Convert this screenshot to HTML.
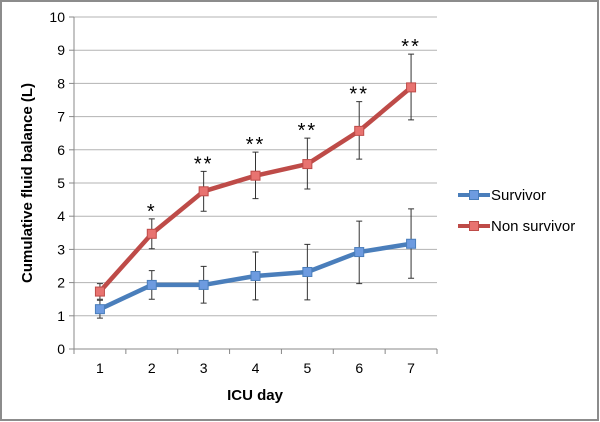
<!DOCTYPE html>
<html><head><meta charset="utf-8"><style>
body{margin:0;background:#fff;}
svg{display:block;font-family:"Liberation Sans",Calibri,sans-serif;}
</style></head><body>
<svg width="600" height="422" viewBox="0 0 600 422">
<rect x="1" y="1" width="597" height="419" fill="#fff" stroke="#8c8c8c" stroke-width="2"/>
<g id="grid"></g><g id="axes"></g><g id="series"></g>
<text x="32" y="183" transform="rotate(-90 32 183)" text-anchor="middle" font-size="15" font-weight="bold" fill="#000">Cumulative fluid balance (L)</text>
<text x="255" y="400" text-anchor="middle" font-size="15" font-weight="bold" fill="#000">ICU day</text>
<g>
<g>
<line x1="458" y1="195" x2="490" y2="195" stroke="#4a7ebb" stroke-width="4"/>
<rect x="469.5" y="190.5" width="9" height="9" fill="#6d9be0" stroke="#4a7ebb"/>
<text x="491" y="200" font-size="15" fill="#000">Survivor</text></g>
<g>
<line x1="458" y1="226" x2="490" y2="226" stroke="#be4b48" stroke-width="4"/>
<rect x="469.5" y="221.5" width="9" height="9" fill="#e87370" stroke="#be4b48"/>
<text x="491" y="231" font-size="15" fill="#000">Non survivor</text></g>
</g>
</svg>
<script>
const days=[1,2,3,4,5,6,7];
const yTicks=[0,1,2,3,4,5,6,7,8,9,10];
const survivor=[1.2,1.93,1.93,2.2,2.32,2.92,3.17];
const survivorHi=[1.47,2.36,2.49,2.92,3.15,3.85,4.22];
const survivorLo=[0.93,1.5,1.38,1.48,1.48,1.97,2.13];
const nonSurvivor=[1.73,3.47,4.75,5.22,5.57,6.57,7.88];
const nonSurvivorHi=[1.97,3.92,5.35,5.93,6.35,7.45,8.88];
const nonSurvivorLo=[1.5,3.02,4.15,4.53,4.82,5.72,6.9];
const stars=["","*","**","**","**","**","**"];
const NS="http://www.w3.org/2000/svg";
const x0=74,x1=437,yb=349,yt=17;
const step=(x1-x0)/days.length;
const X=i=>x0+step*(i+0.5);
const Y=v=>yb-(v/10)*(yb-yt);
function mk(tag,attrs,parent){const e=document.createElementNS(NS,tag);for(const k in attrs)e.setAttribute(k,attrs[k]);parent.appendChild(e);return e;}
const grid=document.getElementById('grid'),axes=document.getElementById('axes'),ser=document.getElementById('series');
yTicks.forEach(v=>{
 if(v>0){const g=mk('line',{x1:x0,x2:x1,y1:Y(v),y2:Y(v),stroke:'#b3b3b3','stroke-width':1},grid);
 
 }
 const tk=mk('line',{x1:x0-5,x2:x0,y1:Y(v),y2:Y(v),stroke:'#888'},axes);
 
 
 const t=mk('text',{x:x0-9,y:Y(v)+5,'text-anchor':'end','font-size':14,fill:'#000'},axes);t.textContent=v;
 
 
});
const ya=mk('line',{x1:x0,x2:x0,y1:yt,y2:yb,stroke:'#888'},axes);


const xa=mk('line',{x1:x0,x2:x1,y1:yb,y2:yb,stroke:'#888'},axes);


for(let i=0;i<=days.length;i++){const tk=mk('line',{x1:x0+step*i,x2:x0+step*i,y1:yb,y2:yb+5,stroke:'#888'},axes);
 
 }
days.forEach((d,i)=>{const t=mk('text',{x:X(i),y:yb+24,'text-anchor':'middle','font-size':14,fill:'#000'},axes);t.textContent=d;
 
 });
function drawSeries(name,vals,hi,lo,stroke,fill){
 const g=mk('g',{},ser);
 
 
 vals.forEach((v,i)=>{const cx=X(i);
  const e=mk('path',{d:`M${cx},${Y(hi[i])}V${Y(lo[i])}M${cx-3},${Y(hi[i])}H${cx+3}M${cx-3},${Y(lo[i])}H${cx+3}`,stroke:'#333','stroke-width':1,fill:'none'},g);
  
  });
 const l=mk('polyline',{points:vals.map((v,i)=>X(i)+','+Y(v)).join(' '),fill:'none',stroke:stroke,'stroke-width':4.5,'stroke-linejoin':'round'},g);
 
 
 vals.forEach((v,i)=>{const r=mk('rect',{x:X(i)-4.5,y:Y(v)-4.5,width:9,height:9,fill:fill,stroke:stroke,'stroke-width':1},g);
  
  });
}
drawSeries('survivor',survivor,survivorHi,survivorLo,'#4a7ebb','#6d9be0');
drawSeries('non-survivor',nonSurvivor,nonSurvivorHi,nonSurvivorLo,'#be4b48','#e87370');
stars.forEach((s,i)=>{if(!s)return;const t=mk('text',{x:X(i),y:Y(nonSurvivorHi[i])-1,'text-anchor':'middle','font-size':20,'letter-spacing':'2',fill:'#000'},ser);t.textContent=s;
 
 });
</script>
</body></html>
